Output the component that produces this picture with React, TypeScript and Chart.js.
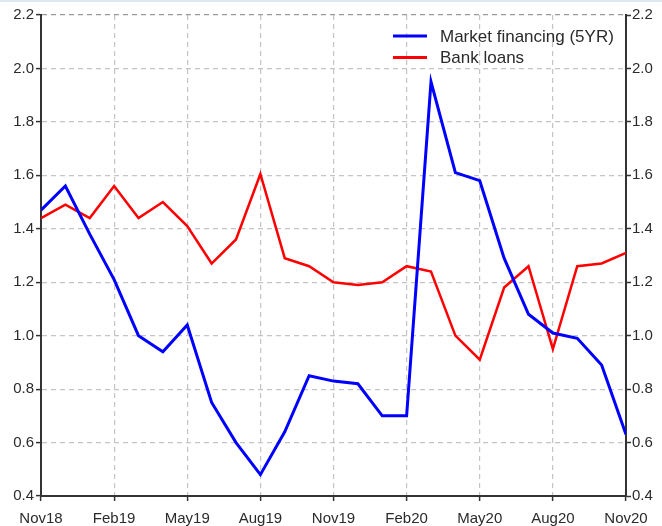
import React, { useEffect, useRef } from "react";
import { Chart, registerables } from "chart.js";

Chart.register(...registerables);

const months = [
  "Nov18", "Dec18", "Jan19", "Feb19", "Mar19", "Apr19", "May19", "Jun19", "Jul19",
  "Aug19", "Sep19", "Oct19", "Nov19", "Dec19", "Jan20", "Feb20", "Mar20", "Apr20",
  "May20", "Jun20", "Jul20", "Aug20", "Sep20", "Oct20", "Nov20",
];
const tickLabels = ["Nov18", "Feb19", "May19", "Aug19", "Nov19", "Feb20", "May20", "Aug20", "Nov20"];
const marketFinancing = [
  1.47, 1.56, 1.38, 1.21, 1.0, 0.94, 1.04, 0.75, 0.6, 0.48, 0.64, 0.85, 0.83,
  0.82, 0.7, 0.7, 1.95, 1.61, 1.58, 1.29, 1.08, 1.01, 0.99, 0.89, 0.63,
];
const bankLoans = [
  1.44, 1.49, 1.44, 1.56, 1.44, 1.5, 1.41, 1.27, 1.36, 1.605, 1.29, 1.26, 1.2,
  1.19, 1.2, 1.26, 1.24, 1.0, 0.91, 1.18, 1.26, 0.95, 1.26, 1.27, 1.31,
];
const seriesNames = ["Market financing (5YR)", "Bank loans"];
const seriesColors = ["#0000ff", "#ff0000"];

const FONT = '"Liberation Sans", Arial, Helvetica, sans-serif';
const TEXT = "#2b2b2b";
const GRID = "#c4c4c4";
const AXIS = "#333333";

const legendPlugin = {
  id: "customLegend",
  afterDraw(chart: any) {
    const ctx = chart.ctx;
    const area = chart.chartArea;
    ctx.save();
    ctx.font = `17px ${FONT}`;
    ctx.textBaseline = "middle";
    ctx.textAlign = "left";
    const x0 = area.right - 233;
    seriesNames.forEach((name, i) => {
      const y = area.top + 21 + i * 21.5;
      ctx.strokeStyle = seriesColors[i];
      ctx.lineWidth = 3;
      ctx.beginPath();
      ctx.moveTo(x0, y);
      ctx.lineTo(x0 + 34, y);
      ctx.stroke();
      ctx.fillStyle = TEXT;
      ctx.fillText(name, x0 + 47, y + 1);
    });
    ctx.restore();
  },
};

const framePlugin = {
  id: "frameTop",
  afterDraw(chart: any) {
    const ctx = chart.ctx;
    ctx.save();
    ctx.fillStyle = "#dde7f1";
    ctx.fillRect(0, 0, chart.width, 2);
    ctx.restore();
  },
};

export default function App() {
  const ref = useRef<HTMLCanvasElement | null>(null);

  useEffect(() => {
    document.body.style.margin = "0";
    const canvas = ref.current;
    if (!canvas) return;
    const chart = new Chart(canvas, {
      type: "line",
      data: {
        labels: months,
        datasets: [
          {
            label: seriesNames[0],
            data: marketFinancing.map((v, i) => ({ x: i, y: v })),
            borderColor: seriesColors[0],
            borderWidth: 3,
            pointRadius: 0,
            tension: 0,
            fill: false,
            yAxisID: "y",
          },
          {
            label: seriesNames[1],
            data: bankLoans.map((v, i) => ({ x: i, y: v })),
            borderColor: seriesColors[1],
            borderWidth: 2.5,
            pointRadius: 0,
            tension: 0,
            fill: false,
            yAxisID: "y",
          },
        ],
      },
      options: {
        animation: false,
        responsive: false,
        maintainAspectRatio: false,
        layout: { padding: { top: 15, left: 0, right: 0, bottom: 0 } },
        plugins: {
          legend: { display: false },
          tooltip: { enabled: false },
        },
        scales: {
          x: {
            type: "linear",
            min: 0,
            max: months.length - 1,
            afterFit: (s: any) => {
              s.height = 30;
            },
            ticks: {
              stepSize: 3,
              autoSkip: false,
              maxRotation: 0,
              padding: 9,
              color: TEXT,
              font: { family: FONT, size: 15 },
              callback: (v: any) => tickLabels[Math.round(Number(v) / 3)] ?? "",
            },
            grid: {
              color: GRID,
              lineWidth: 1.2,
              drawTicks: true,
              tickLength: 5,
              tickColor: AXIS,
              tickWidth: 1.5,
            },
            border: { display: true, color: AXIS, width: 2, dash: [5, 4] },
          },
          y: {
            type: "linear",
            position: "left",
            min: 0.4,
            max: 2.2,
            afterFit: (s: any) => {
              s.width = 41;
            },
            ticks: {
              stepSize: 0.2,
              padding: 2,
              color: TEXT,
              font: { family: FONT, size: 15 },
              callback: (v: any) => Number(v).toFixed(1),
            },
            grid: {
              color: (c: any) => (c.tick && Math.abs(c.tick.value - 2.2) < 1e-6 ? "#9a9a9a" : GRID),
              lineWidth: 1.2,
              drawTicks: true,
              tickLength: 5,
              tickColor: AXIS,
              tickWidth: 1.5,
            },
            border: { display: true, color: AXIS, width: 2, dash: [5, 4] },
          },
          y2: {
            type: "linear",
            position: "right",
            min: 0.4,
            max: 2.2,
            afterFit: (s: any) => {
              s.width = 36;
            },
            ticks: {
              stepSize: 0.2,
              padding: 1,
              color: TEXT,
              font: { family: FONT, size: 15 },
              callback: (v: any) => Number(v).toFixed(1),
            },
            grid: {
              drawOnChartArea: false,
              drawTicks: true,
              tickLength: 5,
              tickColor: AXIS,
              tickWidth: 1.5,
            },
            border: { display: true, color: AXIS, width: 2 },
          },
        },
      },
      plugins: [legendPlugin, framePlugin],
    });
    return () => chart.destroy();
  }, []);

  return (
    <div style={{ width: 662, height: 526, background: "#ffffff" }}>
      <canvas ref={ref} width={662} height={526} style={{ display: "block" }} />
    </div>
  );
}
